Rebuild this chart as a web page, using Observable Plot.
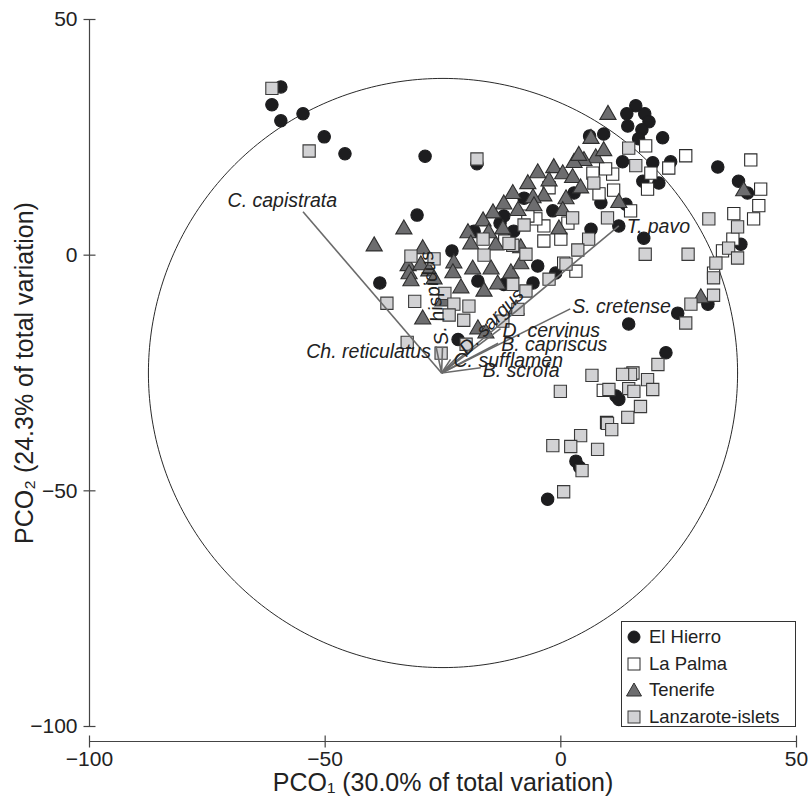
<!DOCTYPE html>
<html>
<head>
<meta charset="utf-8">
<script src="https://cdn.jsdelivr.net/npm/d3@7"></script>
<script src="https://cdn.jsdelivr.net/npm/@observablehq/plot@0.6"></script>
<style>
  html, body { margin: 0; padding: 0; background: #fff; }
  #wrap { position: relative; width: 811px; height: 803px; font-family: 'Liberation Sans', Arial, sans-serif; }
  #legend { position: absolute; left: 621px; top: 621px; width: 175px; height: 106px; border: 1px solid #333; background: #fff; box-sizing: border-box; }
  .row { position: absolute; left: 0; height: 24px; display: flex; align-items: center; font-size: 18.5px; color: #222; white-space: nowrap; }
  .row svg { margin-left: 4px; margin-right: 7px; }
</style>
</head>
<body>
<div id="wrap"></div>
<script>
// ---- data ----
const categories = ["El Hierro", "La Palma", "Tenerife", "Lanzarote-islets"];

const elHierro = [
  [-59.4,35.7],[-61.3,31.9],[-59.4,28.5],[-54.7,30.0],[-50.2,25.1],[-45.8,21.5],[-28.8,21.0],[-17.8,19.4],
  [-30.5,8.5],[-12.9,6.8],[-38.4,-5.9],[-23.1,0.9],[-18.4,5.1],[-17.6,-5.5],[-12.1,-6.2],[-21.8,-17.9],
  [15.9,31.7],[14.0,30.0],[17.8,30.0],[18.7,28.3],[14.2,27.4],[17.2,26.6],[9.1,25.7],[6.1,25.3],
  [21.6,24.9],[16.5,24.7],[13.1,19.8],[19.5,19.6],[23.3,19.8],[17.4,15.7],[20.8,15.3],[33.3,18.7],
  [37.7,15.7],[39.6,13.2],[8.5,11.1],[13.8,10.8],[12.3,6.2],[17.6,3.6],[6.4,5.5],[-4.9,-2.3],
  [-5.9,-5.9],[-1.1,-3.8],[-1.7,9.4],[2.8,13.2],[-7.8,12.1],[-10.0,5.1],[-12.1,8.3],[38.2,2.3],
  [24.8,-12.3],[31.2,-10.4],[14.4,-14.6],[22.3,-20.7],[12.3,-30.6],[11.7,-29.9],[3.2,-43.7],[4.0,-45.0],
  [-2.8,-51.8]
];
const laPalma = [
  [18.0,23.2],[26.5,21.1],[22.9,18.5],[19.1,17.4],[11.0,17.2],[6.8,17.4],[11.2,13.8],[8.1,13.0],
  [18.4,14.0],[14.8,9.4],[40.3,20.2],[42.4,14.0],[42.0,10.5],[36.7,8.8],[40.9,7.7],[36.5,3.4],
  [34.3,0.9],[32.4,-3.8],[3.2,-3.4],[-3.6,6.2],[-3.6,3.0],[-5.3,7.7],[1.5,6.8],[-11.9,3.0],
  [-2.5,14.3],[-7.0,8.3],[9.5,18.3],[0.0,3.4],[0.6,-1.7],[9.0,-28.7],[9.7,-35.5],[15.3,-25.0]
];
const tenerife = [
  [10.0,29.8],[6.4,24.7],[7.4,20.6],[4.9,20.0],[2.8,19.6],[-1.5,18.5],[0.4,17.2],[2.5,16.4],
  [-2.5,15.7],[4.2,14.2],[-3.6,12.5],[-5.9,12.1],[1.1,11.9],[12.3,11.1],[-5.7,10.4],[0.4,9.4],
  [-0.4,5.5],[-8.5,1.5],[-10.6,-3.8],[-8.5,-1.9],[-9.5,-11.5],[38.8,13.6],[29.7,-9.1],[-33.3,5.5],
  [-39.6,1.9],[-19.7,4.7],[-19.1,2.3],[-13.8,2.1],[-12.3,5.5],[-29.3,1.3],[-32.4,-2.3],[-29.7,-2.1],
  [-32.2,-4.0],[-28.0,-3.4],[-31.8,-5.5],[-26.9,-5.1],[-22.7,-1.7],[-22.9,-3.8],[-18.7,-3.0],[-21.2,-7.0],
  [-16.3,-7.7],[-14.8,-3.0],[-13.4,-6.2],[-29.3,-13.6],[-17.6,-15.7],[-15.9,-16.6],[-25.0,-9.8],[-7.0,15.1],
  [-10.2,13.0],[-12.1,10.8],[-14.4,8.9],[-16.5,7.2],[-15.3,4.7],[-9.1,9.4],[-4.9,17.4],[3.8,21.1],
  [9.1,22.1]
];
const lanzarote = [
  [-61.3,35.4],[-53.4,22.1],[-17.8,20.4],[-36.9,-10.2],[-31.8,-0.2],[-26.9,-0.8],[-31.0,-9.8],[-24.6,-8.1],
  [-22.7,-10.4],[-19.5,-10.8],[-23.7,-12.7],[-20.6,-13.8],[-32.6,-18.5],[-25.4,-20.8],[-20.1,-18.9],[-16.3,0.0],
  [-10.2,2.1],[-7.4,0.2],[-10.2,-6.2],[-12.3,-14.0],[-7.4,-7.6],[-9.1,-11.5],[-16.5,3.4],[-11.0,2.5],
  [14.4,22.7],[15.9,19.0],[7.0,15.3],[9.9,7.9],[2.5,7.9],[5.9,3.4],[3.6,1.1],[1.1,-1.9],
  [-2.5,-5.1],[-7.8,6.4],[31.4,7.7],[37.5,6.0],[35.6,1.5],[37.5,-0.6],[17.9,0.2],[27.0,0.2],
  [32.9,-1.7],[32.4,-4.8],[32.4,-8.5],[27.6,-10.4],[26.5,-14.4],[20.6,-23.2],[18.4,-26.4],[19.5,-28.5],
  [14.8,-25.3],[13.1,-25.3],[14.4,-28.3],[15.5,-28.9],[10.2,-28.5],[6.6,-25.5],[-0.1,-28.9],[16.9,-32.1],
  [14.2,-34.4],[9.9,-35.7],[10.8,-37.0],[4.2,-38.3],[-1.7,-40.4],[2.1,-40.6],[7.8,-41.2],[4.5,-45.7],
  [0.6,-50.2]
];

// species vectors (origin and end points, data units)
const vectorOrigin = [-25.3, -25.0];
const species = ["C. capistrata","T. pavo","S. cretense","D. cervinus","B. capriscus","C. sufflamen","B. scrofa","Ch. reticulatus","S. hispidus","D. sargus"];
const vectorEnds = [[-54.7,9.2],[12.3,6.2],[2.0,-11.4],[-12.8,-15.6],[-13.3,-18.7],[-23.4,-22.1],[-17.0,-23.9],[-26.5,-19.3],[-25.1,-19.5],[-21.3,-20.9]];

// correlation circle
const circleCenter = [-25, -25];
const circleRadius = 62.5;

const xTicks = [-100, -50, 0, 50];
const yTicks = [-100, -50, 0, 50];
const xTitle = "PCO\u2081 (30.0% of total variation)";
const yTitle = "PCO\u2082 (24.3% of total variation)";

// ---- styles ----
const FONT = "'Liberation Sans', Arial, sans-serif";
const labelStyle = {
  "C. capistrata":   {anchor: "end",   dx: 34, dy: -11, rotate: 0},
  "T. pavo":         {anchor: "start", dx: 8,  dy: 1,   rotate: 0},
  "S. cretense":     {anchor: "start", dx: 2,  dy: -2,  rotate: 0},
  "D. cervinus":     {anchor: "start", dx: 2,  dy: 2,   rotate: 0},
  "B. capriscus":    {anchor: "start", dx: 3,  dy: 1,   rotate: 0},
  "C. sufflamen":    {anchor: "start", dx: 3,  dy: 1,   rotate: 0},
  "B. scrofa":       {anchor: "start", dx: 2,  dy: 3,   rotate: 0},
  "Ch. reticulatus": {anchor: "end",   dx: -5, dy: 6,   rotate: 0},
  "S. hispidus":     {anchor: "start", dx: 0,  dy: -2,  rotate: -100},
  "D. sargus":       {anchor: "start", dx: 2,  dy: -2,  rotate: -46}
};
const seriesStyle = [
  {symbol: "circle",   r: 6.2, fill: "#1d1d1f", stroke: "#1d1d1f"},
  {symbol: "square",   r: 6.9, fill: "#ffffff", stroke: "#2a2a2a"},
  {symbol: "triangle", r: 6.0, fill: "#6d6d6f", stroke: "#2e2e2e"},
  {symbol: "square",   r: 6.9, fill: "#d2d2d4", stroke: "#3a3a3a"}
];
const seriesData = [elHierro, laPalma, tenerife, lanzarote];

const hTick = {draw(ctx) { ctx.moveTo(-6, 0); ctx.lineTo(6, 0); }};
const vTick = {draw(ctx) { ctx.moveTo(0, -6); ctx.lineTo(0, 6); }};

const circlePts = d3.range(0, 361, 1).map(a => [
  circleCenter[0] + circleRadius * Math.cos(a * Math.PI / 180),
  circleCenter[1] + circleRadius * Math.sin(a * Math.PI / 180)
]);

const vectors = species.map((s, i) => ({name: s, x: vectorEnds[i][0], y: vectorEnds[i][1]}));

const plot = Plot.plot({
  width: 811, height: 803,
  marginLeft: 89, marginRight: 15, marginTop: 19, marginBottom: 77,
  x: {domain: [-100, 50], axis: null},
  y: {domain: [-100, 50], axis: null},
  style: {fontFamily: FONT, fontSize: "21px", color: "#222", background: "#fff"},
  marks: [
    Plot.line(circlePts, {x: d => d[0], y: d => d[1], stroke: "#2a2a2a", strokeWidth: 1}),
    ...seriesData.map((data, i) => Plot.dot(data, {
      x: d => d[0], y: d => d[1],
      symbol: seriesStyle[i].symbol, r: seriesStyle[i].r,
      fill: seriesStyle[i].fill, stroke: seriesStyle[i].stroke, strokeWidth: 1.1
    })),
    Plot.link(vectors, {
      x1: () => vectorOrigin[0], y1: () => vectorOrigin[1], x2: "x", y2: "y",
      stroke: "#6a6a6a", strokeWidth: 1.6
    }),
    ...vectors.map(v => Plot.text([v], {
      x: "x", y: "y", text: "name",
      textAnchor: labelStyle[v.name].anchor, dx: labelStyle[v.name].dx, dy: labelStyle[v.name].dy,
      rotate: labelStyle[v.name].rotate,
      fontSize: 19.5, fontStyle: "italic", fill: "#222"
    })),
    // axes
    Plot.ruleX([-100], {stroke: "#444", strokeWidth: 1.2}),
    Plot.ruleY([-100], {stroke: "#444", strokeWidth: 1.2, dy: 15}),
    Plot.dot(yTicks, {x: () => -100, y: d => d, symbol: hTick, stroke: "#444", strokeWidth: 1.2}),
    Plot.dot(xTicks, {x: d => d, y: () => -100, symbol: vTick, stroke: "#444", strokeWidth: 1.2, dy: 15}),
    Plot.axisY(yTicks, {tickSize: 0, tickPadding: 12, fontSize: 21, label: null, fill: "#222"}),
    Plot.axisX(xTicks, {tickSize: 0, tickPadding: 10, dy: 15, fontSize: 21, label: null, fill: "#222"}),
    Plot.text([xTitle], {frameAnchor: "bottom", textAnchor: "middle", dy: 64, fontSize: 25, fill: "#222"}),
    Plot.text([yTitle], {frameAnchor: "left", textAnchor: "middle", dx: -65, rotate: -90, fontSize: 25, fill: "#222"})
  ]
});

const wrap = document.getElementById("wrap");
wrap.appendChild(plot);

// legend
const legend = document.createElement("div");
legend.id = "legend";
const symbolSvg = (i) => {
  const s = seriesStyle[i];
  let shape;
  if (s.symbol === "circle") shape = `<circle cx="8" cy="8" r="6" fill="${s.fill}" stroke="${s.stroke}"/>`;
  else if (s.symbol === "triangle") shape = `<path d="M8,1 L15.5,14 L0.5,14 Z" fill="${s.fill}" stroke="${s.stroke}"/>`;
  else shape = `<rect x="2" y="2" width="12" height="12" fill="${s.fill}" stroke="${s.stroke}"/>`;
  return `<svg width="16" height="16">${shape}</svg>`;
};
categories.forEach((c, i) => {
  const row = document.createElement("div");
  row.className = "row";
  row.style.top = (3 + i * 26.5) + "px";
  row.innerHTML = symbolSvg(i) + `<span>${c}</span>`;
  legend.appendChild(row);
});
wrap.appendChild(legend);
</script>
</body>
</html>
